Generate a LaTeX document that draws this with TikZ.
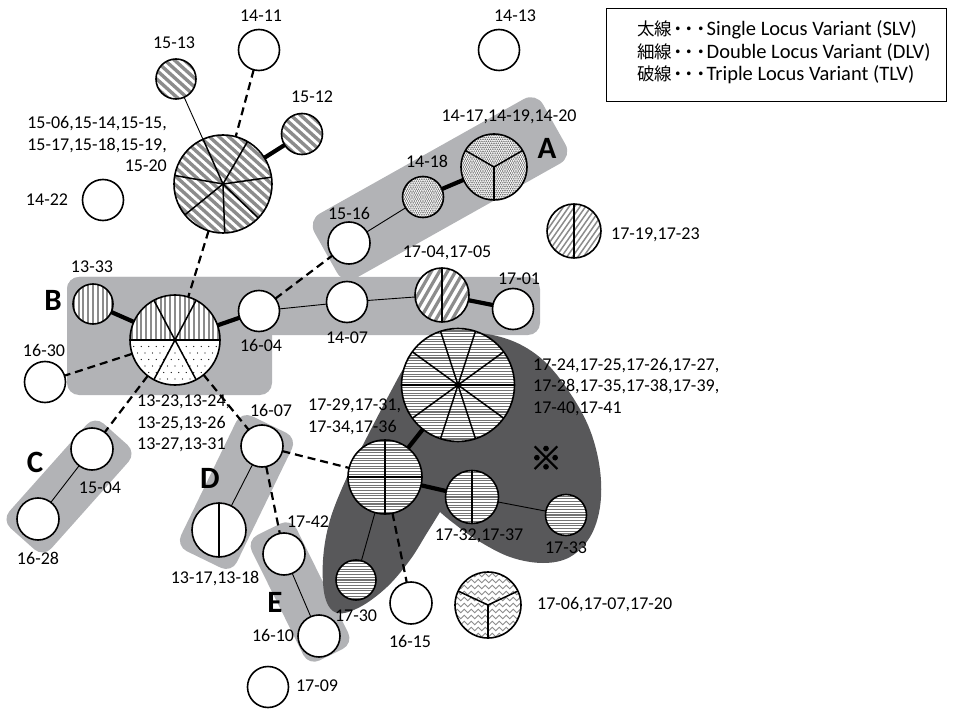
\documentclass[tikz,border=0pt]{standalone}
\usepackage{fontspec}
\setmainfont{Carlito}
\newfontfamily\jpfont{Noto Sans CJK JP}
\newfontfamily\jpboldfont[FakeBold=2.5]{Noto Sans CJK JP}
\usetikzlibrary{calc,decorations.pathmorphing}
\definecolor{lgray}{RGB}{178,179,182}
\definecolor{dgray}{RGB}{88,88,90}
\definecolor{stripegray}{RGB}{140,140,140}
\definecolor{linegray}{RGB}{115,115,115}
\definecolor{dotgray}{RGB}{110,110,110}
\tikzset{
 nd/.style={circle, draw=black, line width=1.6pt, fill=white, inner sep=0pt, outer sep=0pt, minimum size=#1},
 spk/.style={line width=1.5pt},
 slv/.style={line width=4.2pt},
 dlv/.style={line width=0.9pt},
 tlv/.style={line width=2.2pt, dash pattern=on 8pt off 5pt},
 lbl/.style={inner sep=0pt, text=black},
 bigl/.style={inner sep=0pt, font=\fontsize{31}{31}\selectfont\bfseries},
 region/.style={fill=lgray, rounded corners=12pt},
 pstripe/.style n args={4}{path picture={\foreach \k in {-32,...,32}{\draw[line width=#3,draw=#4] ($(path picture bounding box.center)+(#1+90:\k*#2)+(#1:-80pt)$) -- ($(path picture bounding box.center)+(#1+90:\k*#2)+(#1:80pt)$);}}},
 pdots/.style n args={4}{path picture={\begin{scope}[shift={(path picture bounding box.center)}]\foreach \j in {-#4,...,#4}{\foreach \i in {-#4,...,#4}{\fill[#3] ({(\i+0.5*mod(\j,2))*#1},{\j*#1*0.9}) circle (#2);}}\end{scope}}},
 pwave/.style={path picture={\begin{scope}[shift={(path picture bounding box.center)}]\foreach \k in {-6,...,6}{\draw[stripegray, line width=0.9pt, decorate, decoration={snake, amplitude=1.7pt, segment length=7pt}] (-40pt,\k*6pt) -- (40pt,\k*6pt);}\end{scope}}},
 legtext/.style={inner sep=0pt, anchor=west, font=\fontsize{20.5}{24}\selectfont},
}
\newcommand\legkanji[1]{{\jpfont\fontsize{17.5}{20}\selectfont #1\kern-3pt・\kern-6pt・\kern-6pt・\kern-3pt}}
\begin{document}
\begin{tikzpicture}[x=1pt,y=-1pt,font=\fontsize{18}{21.7}\selectfont]
\useasboundingbox (0,0) rectangle (953,711);

% ---------- regions ----------
\fill[region] (67,277) rectangle (272,395);
\fill[region] (67,277) rectangle (540,335);
\begin{scope}[shift={(440,188.5)},rotate=29.3]
 \fill[region,rounded corners=14pt] (-131pt,-37pt) rectangle (131pt,37pt);
\end{scope}
\begin{scope}[shift={(69,486.5)},rotate=48.3]
 \fill[region] (-70pt,-28pt) rectangle (70pt,28pt);
\end{scope}
\begin{scope}[shift={(236.5,492)},rotate=64.1]
 \fill[region] (-75pt,-31pt) rectangle (75pt,31pt);
\end{scope}
\begin{scope}[shift={(300,592)},rotate=-63.6]
 \fill[region] (-70pt,-25pt) rectangle (70pt,25pt);
\end{scope}
\fill[dgray] plot[smooth, tension=0.6] coordinates {(440,512) (452,522) (477,540) (510,557) (543,563) (570,557) (590,537) (600,507) (600,470) (590,430) (570,393) (543,360) (510,340) (470,333) (425,343) (407,363) (390,393) (367,437) (347,477) (330,520) (323,560) (325,597) (337,613) (360,607) (387,587) (410,560) (427,533) (440,512)} -- cycle;

% ---------- nodes ----------
\node[nd=41pt] (n1411) at (259,50) {};
\node[nd=41pt] (n1413) at (499,50) {};
\node[nd=40pt, pstripe={-42}{6.5pt}{3.4pt}{stripegray}] (n1513) at (176,79) {};
\node[nd=41pt, pstripe={-42}{6.5pt}{3.4pt}{stripegray}] (n1512) at (302,134) {};
\node[nd=98pt, pstripe={-42}{6.5pt}{3.4pt}{stripegray}] (n15) at (223,184) {};
\node[nd=41pt] (n1422) at (103,200) {};
\node[nd=66pt, pdots={2.2}{0.85pt}{dotgray}{17}] (n1417) at (494,167) {};
\node[nd=41pt, pdots={2.2}{0.85pt}{dotgray}{11}] (n1418) at (423,197) {};
\node[nd=42pt] (n1516) at (349,243) {};
\node[nd=54pt, pstripe={55}{4.5pt}{1.5pt}{stripegray}] (n1719) at (574,231) {};
\node[nd=40pt, pstripe={90}{4.8pt}{2pt}{stripegray}] (n1333) at (93,304) {};
\node[nd=90pt, path picture={
  \begin{scope}
   \clip (path picture bounding box.north west) rectangle (path picture bounding box.east);
   \foreach \k in {-12,...,12}{\draw[stripegray, line width=2pt] ($(path picture bounding box.center)+(\k*4.8pt,-60pt)$) -- ++(0pt,120pt);}
  \end{scope}
  \begin{scope}
   \clip (path picture bounding box.west) rectangle (path picture bounding box.south east);
   \begin{scope}[shift={(path picture bounding box.center)}]
    \foreach \j in {0,...,7}{\foreach \i in {-7,...,7}{\fill[black] ({(\i+0.5*mod(\j,2))*7.5},{\j*6.5}) circle (0.65pt);}}
   \end{scope}
  \end{scope}}] (nB) at (175,340) {};
\node[nd=41pt] (n1604) at (259,311) {};
\node[nd=41pt] (n1407) at (347,302) {};
\node[nd=54pt, pstripe={60}{7pt}{3.2pt}{stripegray}] (n1704) at (442,295) {};
\node[nd=41pt] (n1701) at (513,309) {};
\node[nd=41pt] (n1630) at (45,382) {};
\node[nd=113pt, pstripe={0}{2.7pt}{1.1pt}{linegray}] (n1724) at (458,385) {};
\node[nd=42pt] (n1504) at (92,449) {};
\node[nd=42pt] (n1628) at (38,519) {};
\node[nd=42pt] (n1607) at (262,446) {};
\node[nd=54pt] (n1317) at (219,530) {};
\node[nd=74pt, pstripe={0}{2.7pt}{1.1pt}{linegray}] (n1729) at (385,477) {};
\node[nd=53pt, pstripe={0}{2.7pt}{1.1pt}{linegray}] (n1732) at (472,497) {};
\node[nd=41pt, pstripe={0}{2.7pt}{1.1pt}{linegray}] (n1733) at (566,515) {};
\node[nd=42pt] (n1742) at (284,554) {};
\node[nd=40pt, pstripe={0}{2.7pt}{1.1pt}{linegray}] (n1730) at (356,580) {};
\node[nd=42pt] (n1615) at (411,603) {};
\node[nd=66pt, pwave] (n1706) at (488,605) {};
\node[nd=42pt] (n1610) at (319,636) {};
\node[nd=41pt] (n1709) at (268,687) {};

% ---------- sector lines ----------
\foreach \a in {8,60,114,170,219,272,316} \draw[spk] (n15.center) -- (n15.\a);
\foreach \a in {30,150,270} \draw[spk] (n1417.center) -- (n1417.\a);
\foreach \a in {25,155,270} \draw[spk] (n1706.center) -- (n1706.\a);
\foreach \a in {0,36,...,324} \draw[spk] (n1724.center) -- (n1724.\a);
\draw[spk] (nB.180) -- (nB.0);
\draw[spk] (nB.62) -- (nB.242);
\draw[spk] (nB.118) -- (nB.298);
\draw[spk] (n1729.180) -- (n1729.0);
\draw[spk] (n1729.90) -- (n1729.270);
\foreach \n in {n1719,n1704,n1732,n1317} \draw[spk] (\n.90) -- (\n.270);

% ---------- connectors ----------
\draw[tlv] (n1411) -- (n15);
\draw[dlv] (n1513) -- (n15);
\draw[slv] (n1512) -- (n15);
\draw[tlv] (n15) -- (nB);
\draw[slv] (n1333) -- (nB);
\draw[slv] (nB) -- (n1604);
\draw[tlv] (nB) -- (n1630);
\draw[tlv] (nB) -- (n1504);
\draw[tlv] (nB) -- (n1607);
\draw[dlv] (n1604) -- (n1407);
\draw[tlv] (n1604) -- (n1516);
\draw[dlv] (n1407) -- (n1704);
\draw[slv] (n1704) -- (n1701);
\draw[dlv] (n1516) -- (n1418);
\draw[slv] (n1418) -- (n1417);
\draw[dlv] (n1504) -- (n1628);
\draw[dlv] (n1607) -- (n1317);
\draw[tlv] (n1607) -- (n1742);
\draw[tlv] (n1607) -- (n1729);
\draw[dlv] (n1742) -- (n1610);
\draw[slv] (n1724) -- (n1729);
\draw[slv] (n1729) -- (n1732);
\draw[dlv] (n1732) -- (n1733);
\draw[dlv] (n1729) -- (n1730);
\draw[tlv] (n1729) -- (n1615);

% ---------- labels ----------
\node[lbl] (t1411) at (261,16) {14-11};
\node[lbl] (t1413) at (515,16) {14-13};
\node[lbl] (t1513) at (174,43) {15-13};
\node[lbl] (t1512) at (312,97) {15-12};
\node[lbl, anchor=east, align=right] (t15) at (167,144) {15-06,15-14,15-15,\\15-17,15-18,15-19,\\15-20};
\node[lbl] (t1422) at (47,200) {14-22};
\node[lbl] (t1417) at (509,117) {14-17,14-19,14-20};
\node[lbl] (t1418) at (427,161) {14-18};
\node[lbl] (t1516) at (349,213) {15-16};
\node[lbl, anchor=west] (t1719) at (611,235) {17-19,17-23};
\node[lbl] (t1704) at (447,253) {17-04,17-05};
\node[lbl] (t1701) at (519,279) {17-01};
\node[lbl] (t1333) at (92,267) {13-33};
\node[lbl] (t1604) at (261,345) {16-04};
\node[lbl] (t1630) at (44,350) {16-30};
\node[lbl] (t1407) at (347,338) {14-07};
\node[lbl, anchor=west, align=left] (tB) at (137,423.5) {13-23,13-24,\\13-25,13-26\\13-27,13-31};
\node[lbl] (t1607) at (271,410) {16-07};
\node[lbl] (t1504) at (100,488) {15-04};
\node[lbl] (t1628) at (38,558) {16-28};
\node[lbl] (t1317) at (215,579) {13-17,13-18};
\node[lbl] (t1742) at (308,522) {17-42};
\node[lbl] (t1610) at (273,635) {16-10};
\node[lbl] (t1709) at (317,686) {17-09};
\node[lbl] (t1730) at (356,616) {17-30};
\node[lbl] (t1615) at (410,641) {16-15};
\node[lbl, anchor=west, align=left] (t1729) at (308,416.5) {17-29,17-31,\\17-34,17-36};
\node[lbl, anchor=west, align=left] (t1724) at (533,387) {17-24,17-25,17-26,17-27,\\17-28,17-35,17-38,17-39,\\17-40,17-41};
\node[lbl] (t1732) at (479,536) {17-32,17-37};
\node[lbl] (t1733) at (566,548) {17-33};
\node[lbl, anchor=west] (t1706) at (537,605) {17-06,17-07,17-20};

\node[bigl] (gA) at (547,148) {A};
\node[bigl] (gB) at (53,300) {B};
\node[bigl] (gC) at (35,462) {C};
\node[bigl] (gD) at (210,478) {D};
\node[bigl] (gE) at (275,602) {E};
\node[inner sep=0pt, font=\jpboldfont\fontsize{32}{32}\selectfont] (kome) at (546,458) {※};

% ---------- legend ----------
\node[draw=black, line width=1.1pt, minimum width=340pt, minimum height=93pt, inner sep=0pt, anchor=north west] (legend) at (606,8) {};
\node[legtext] (lg1) at (637,30) {\legkanji{太線}Single Locus Variant (SLV)};
\node[legtext] (lg2) at (637,52) {\legkanji{細線}Double Locus Variant (DLV)};
\node[legtext] (lg3) at (637,75) {\legkanji{破線}Triple Locus Variant (TLV)};
\end{tikzpicture}
\end{document}
